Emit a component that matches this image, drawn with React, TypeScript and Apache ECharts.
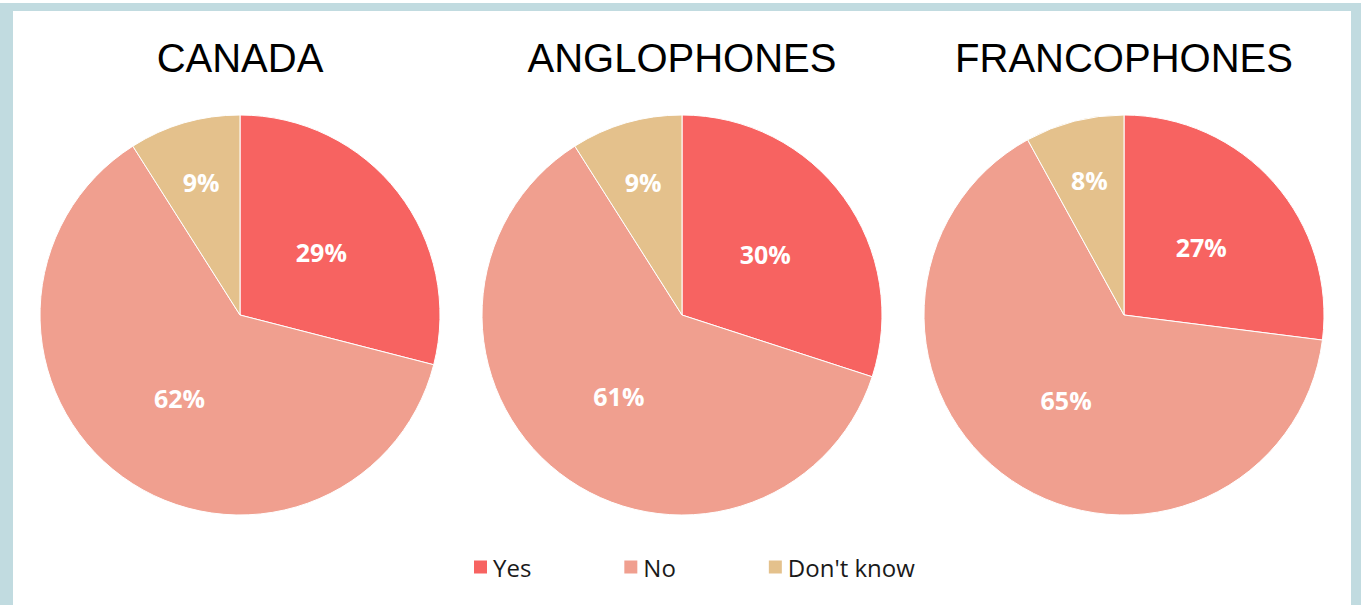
import React, { useEffect, useRef } from "react";
import * as echarts from "echarts";

const categories = ["Yes", "No", "Don't know"];
const groups = ["CANADA", "ANGLOPHONES", "FRANCOPHONES"];
const canadaValues = [29, 62, 9];
const anglophoneValues = [30, 61, 9];
const francophoneValues = [27, 65, 8];
const allValues = [canadaValues, anglophoneValues, francophoneValues];

const colors = ["#f76361", "#f09f8f", "#e4c18c"];
const centersX = [240, 682, 1124];
const centerY = 315;
const radius = 200;
const smallSlicePush = 36;

export default function App() {
  const ref = useRef<HTMLDivElement>(null);
  useEffect(() => {
    if (!ref.current) return;
    const chart = echarts.init(ref.current, undefined, { renderer: "svg" });
    const series = allValues.map((vals, si) => ({
      type: "pie",
      name: groups[si],
      center: [centersX[si], centerY],
      radius: radius,
      startAngle: 90,
      clockwise: true,
      silent: true,
      itemStyle: { borderColor: "#ffffff", borderWidth: 1 },
      label: {
        show: true,
        position: "inside",
        formatter: "{c}%",
        color: "#ffffff",
        fontFamily: "Open Sans",
        fontWeight: "bold",
        fontSize: 25,
      },
      labelLine: { show: false },
      labelLayout: (params: any) => {
        const v = vals[params.dataIndex];
        const total = vals.reduce((a, b) => a + b, 0);
        let before = 0;
        for (let i = 0; i < params.dataIndex; i++) before += vals[i];
        const mid = ((before + v / 2) / total) * Math.PI * 2;
        const push = v / total >= 0.15 ? 0 : smallSlicePush;
        return {
          dx: push * Math.sin(mid),
          dy: -push * Math.cos(mid),
        };
      },
      data: categories.map((c, i) => ({
        name: c,
        value: vals[i],
        itemStyle: { color: colors[i] },
      })),
    }));
    chart.setOption({
      animation: false,
      backgroundColor: "transparent",
      legend: {
        data: categories,
        left: 472,
        top: 555,
        padding: 0,
        orient: "horizontal",
        icon: "rect",
        itemWidth: 15,
        itemHeight: 15,
        itemGap: 91,
        selectedMode: false,
        textStyle: { fontFamily: "Open Sans", fontSize: 24, color: "#1a1a1a" },
      },
      graphic: groups.map((g, i) => ({
        type: "text",
        x: centersX[i],
        y: 58,
        style: {
          text: g,
          align: "center",
          verticalAlign: "middle",
          fontFamily: "Liberation Sans",
          fontWeight: 400,
          fontSize: 40,
          fill: "#000000",
        },
      })),
      series,
    });
    return () => chart.dispose();
  }, []);
  return (
    <div style={{ position: "absolute", left: 0, top: 0, width: 1361, height: 605, background: "#ffffff", overflow: "hidden" }}>
      <div style={{ position: "absolute", left: 0, top: 3, width: 1361, height: 610, background: "#c1dbe0" }} />
      <div style={{ position: "absolute", left: 13, top: 11, width: 1338, height: 600, background: "#ffffff" }} />
      <div ref={ref} style={{ position: "absolute", left: 0, top: 0, width: 1361, height: 605 }} />
    </div>
  );
}
